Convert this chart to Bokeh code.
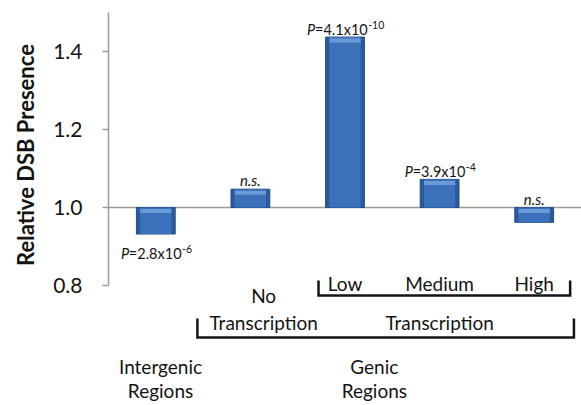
import math
from bokeh.plotting import figure
from bokeh.layouts import row
from bokeh.models import Range1d, FixedTicker, Span, PrintfTickFormatter
from bokeh.core.properties import value
from bokeh.embed import file_html
from bokeh.resources import INLINE

# ---------------- data ----------------
categories = ["Intergenic Regions", "No Transcription", "Low", "Medium", "High"]
rel_dsb = [0.932, 1.047, 1.437, 1.072, 0.962]
y_ticks = [0.8, 1.0, 1.2, 1.4]
p_value_cats = [0, 2, 3]
p_value_mant = ["2.8", "4.1", "3.9"]
p_value_exp = ["-6", "-10", "-4"]
p_value_side = ["below", "above", "above"]
ns_cats = [1, 4]
level_labels = ["Low", "Medium", "High"]
level_cats = [2, 3, 4]
y_title = "Relative DSB Presence"

# ---------------- layout ----------------
W, H = 581, 405
LW = 45                          # width of the strip holding the y title
LEFT, TOP = 108, 12
Y_TOP, Y_AX_MIN = 1.5, 0.8
PX = 390.0                       # pixels per data unit (y)
YMIN = Y_TOP - (H - TOP) / PX
FONT = value("Lato")
INK = "#141414"
AX = "#a39a90"

def yoff(px, base=Y_AX_MIN):
    return base + px / PX

CW = {'.': 0.232, 'x': 0.486, '=': 0.58, '-': 0.338, 'P': 0.6}
def tw(s, size):
    return sum(CW.get(ch, 0.58) for ch in s) * size

yr = Range1d(YMIN, Y_TOP)

p = figure(width=W - LW, height=H, x_range=Range1d(-0.5, 4.5), y_range=yr,
           output_backend="svg", toolbar_location=None, x_axis_type=None,
           min_border_left=LEFT - LW, min_border_right=0, min_border_top=TOP, min_border_bottom=0)
p.grid.visible = False
p.outline_line_color = None
p.background_fill_color = "white"

ax = p.yaxis[0]
ax.bounds = (Y_AX_MIN, Y_TOP)
ax.ticker = FixedTicker(ticks=y_ticks)
ax.formatter = PrintfTickFormatter(format="%.1f")
ax.axis_line_color = AX
ax.axis_line_width = 1.5
ax.major_tick_line_color = AX
ax.major_tick_line_width = 1.5
ax.major_tick_out = 6
ax.major_tick_in = 0
ax.minor_tick_line_color = None
ax.major_label_standoff = 20
ax.major_label_text_font = "Lato"
ax.major_label_text_font_size = "21px"
ax.major_label_text_color = INK

# y title strip
t = figure(width=LW, height=H, x_range=Range1d(0, LW), y_range=yr,
           output_backend="svg", toolbar_location=None, x_axis_type=None, y_axis_type=None,
           min_border_left=0, min_border_right=0, min_border_top=TOP, min_border_bottom=0)
t.grid.visible = False
t.outline_line_color = None
t.text(x=[25], y=[1.1346], text=[y_title], angle=math.pi / 2, text_align="center",
       text_baseline="middle", text_font=FONT, text_font_size="22px", text_font_style="bold",
       text_color=INK)

p.add_layout(Span(location=1.0, dimension="width", line_color=AX, line_width=1.5, level="underlay"))

xs = list(range(len(categories)))
p.vbar(x=xs, bottom=1.0, top=rel_dsb, width=0.41, fill_color="#2a5a9c", line_color="#224d86", line_width=1)
p.vbar(x=xs, bottom=1.0, top=rel_dsb, width=0.33, fill_color="#3a71ba", line_color=None)
upper = [max(v, 1.0) for v in rel_dsb]
p.vbar(x=xs, top=[u - 1.5 / PX for u in upper], bottom=[u - 5.5 / PX for u in upper], width=0.33,
       fill_color="#6b9bd6", line_color=None)

# p-value annotations
PS, SS = 14.5, 10.5
for c, m, e, side in zip(p_value_cats, p_value_mant, p_value_exp, p_value_side):
    main = "=" + m + "x10"
    wP, wm, ws = tw("P", PS), tw(main, PS), tw(e, SS)
    A = -(wP + wm + ws) / 2 + wP + wm
    if side == "above":
        yb = yoff(8, rel_dsb[c])
    else:
        yb = yoff(-19, rel_dsb[c])
    common = dict(text_font=FONT, text_color=INK, text_baseline="alphabetic")
    p.text(x=[c], y=[yb], text=["P"], x_offset=A - wm, text_align="right",
           text_font_size=f"{PS}px", text_font_style="italic", **common)
    p.text(x=[c], y=[yb], text=[main], x_offset=A, text_align="right",
           text_font_size=f"{PS}px", **common)
    p.text(x=[c], y=[yoff(4, yb)], text=[e], x_offset=A + 0.5, text_align="left",
           text_font_size=f"{SS}px", **common)

for c in ns_cats:
    p.text(x=[c], y=[yoff(9, max(rel_dsb[c], 1.0))], text=["n.s."], text_align="center",
           text_baseline="alphabetic", text_font=FONT, text_font_size="15px",
           text_font_style="italic", text_color=INK)

# category labels below the axis
lab = dict(text_align="center", text_baseline="alphabetic", text_font=FONT,
           text_font_size="19px", text_color=INK)
p.text(x=level_cats, y=[yoff(2)] * 3, text=level_labels, **lab)
p.text(x=[1.14, 1.14], y=[yoff(-10), yoff(-37)], text=["No", "Transcription"], **lab)
p.text(x=[3.0], y=[yoff(-37)], text=["Transcription"], **lab)
p.text(x=[0.05, 0.05], y=[yoff(-81), yoff(-105)], text=["Intergenic", "Regions"], **lab)
p.text(x=[2.31, 2.31], y=[yoff(-81), yoff(-105)], text=["Genic", "Regions"], **lab)

# brackets
b1 = (2 - 0.28, 4 + 0.38)
b2 = (1 - 0.56, 4 + 0.42)
p.multi_line(xs=[[b1[0], b1[0], b1[1], b1[1]], [b2[0], b2[0], b2[1], b2[1]]],
             ys=[[yoff(5), yoff(-10), yoff(-10), yoff(5)],
                 [yoff(-33), yoff(-52), yoff(-52), yoff(-33)]],
             line_color=INK, line_width=2.5, line_join="miter")

layout = row(t, p, spacing=0)
open("out.html", "w").write(file_html(layout, INLINE))
